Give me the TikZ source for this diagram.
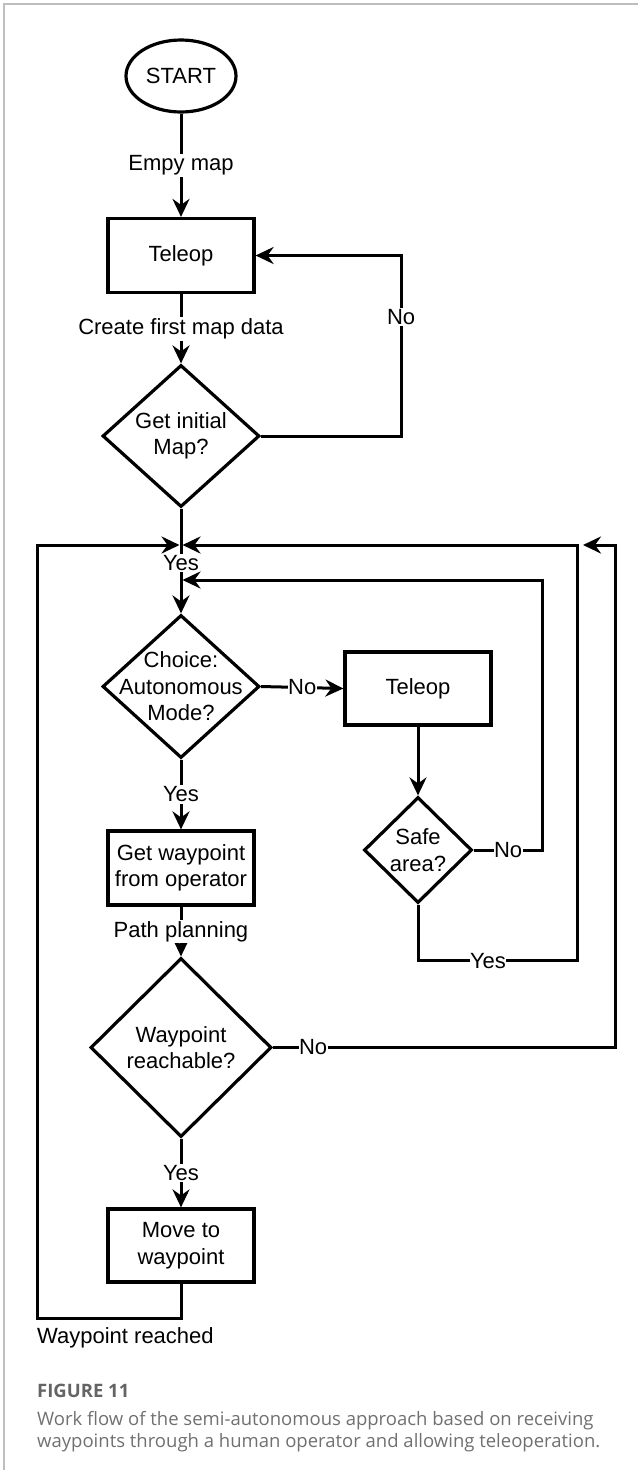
\documentclass[tikz,border=0pt]{standalone}
\usepackage{fontspec}
\setmainfont{Liberation Sans}
\newfontfamily\capfont{Open Sans}
\usetikzlibrary{shapes.geometric,arrows.meta}
\definecolor{framegray}{RGB}{190,190,190}
\definecolor{capgray}{RGB}{112,112,112}
\definecolor{figgray}{RGB}{100,100,100}
\begin{document}
\begin{tikzpicture}[x=1pt,y=-1pt,
  every node/.style={font=\fontsize{22}{26.5}\selectfont, align=center},
  shape line/.style={draw=black, line width=3.2pt},
  procbox/.style={shape line, rectangle, minimum width=146pt, minimum height=74pt, inner sep=0pt},
  decide/.style={shape line, diamond, inner sep=0pt},
  terminal/.style={shape line, ellipse, minimum width=110pt, minimum height=72pt, inner sep=0pt},
  conn/.style={line width=3pt, black},
  arr/.style={conn, -{Stealth[length=18pt, width=17pt, inset=6pt]}},
  lbl/.style={fill=white, inner sep=1.5pt}
]
\useasboundingbox (0,0) rectangle (638,1470);
% page frame (top and left edges only)
\draw[framegray, line width=1.5pt] (638,4) -- (4,4) -- (4,1470);

% nodes
\node[terminal] (start) at (181,76) {START};
\node[procbox] (tel1) at (181,255.5) {Teleop};
\node[decide, minimum width=157pt, minimum height=142pt,
      label={[name=gimtxt, align=center]center:Get initial\\Map?}] (gim) at (181,436) {};
\node[decide, minimum width=157pt, minimum height=143pt,
      label={[name=chmtxt, align=center]center:Choice:\\Autonomous\\Mode?}] (chm) at (181,686.5) {};
\node[procbox, minimum height=73pt] (tel2) at (418,688.5) {Teleop};
\node[decide, minimum width=108pt, minimum height=106pt,
      label={[name=satxt, align=center]center:Safe\\area?}] (sa) at (418,850) {};
\node[procbox] (gw) at (181,868) {Get waypoint\\from operator};
\node[decide, minimum width=181pt, minimum height=179pt,
      label={[name=wrtxt, align=center]center:Waypoint\\reachable?}] (wr) at (181,1047.5) {};
\node[procbox, minimum height=73pt] (mv) at (181,1245.5) {Move to\\waypoint};

% merge points on the main vertical line
\coordinate (jL) at (179.5,545);
\coordinate (jR) at (182.5,545);
\coordinate (jIn) at (182.5,580);
\coordinate (jOut) at (583,545);

% main flow
\draw[arr] (start.south) -- node[lbl]{Empy map} (tel1.north);
\draw[arr] (tel1.south) -- node[lbl]{Create first map data} (gim.north);
\draw[arr] (gim.east) -- ++(140,0) |- node[lbl, pos=0.33]{No} (tel1.east);
\draw[arr] (gim.south) -- node[lbl, pos=0.52]{Yes} (chm.north);
\draw[arr] (chm.east) -- node[lbl, inner sep=0.5pt]{No} (tel2.west);
\draw[arr] (tel2.south) -- (sa.north);
\draw[arr] (sa.east) -- node[lbl, inner sep=0.5pt]{No} ++(69,0) |- (jIn);
\draw[arr] (sa.south) -- ++(0,56) -- node[lbl, inner sep=0.5pt, pos=0.44]{Yes} ++(159,0) |- (jR);
\draw[arr] (chm.south) -- node[lbl]{Yes} (gw.north);
\draw[arr] (gw.south) -- node[lbl]{Path planning} (wr.north);
\draw[arr] (wr.east) -- node[lbl, inner sep=0.5pt, pos=0.117]{No} ++(342,0) |- (jOut);
\draw[arr] (wr.south) -- node[lbl]{Yes} (mv.north);
\draw[arr] (mv.south) -- ++(0,35) -| (37,560) |- (jL);
\node[anchor=base west, inner sep=0pt] (reached) at (37,1343) {Waypoint reached};

% caption
\node[anchor=base west, inner sep=0pt, font=\capfont\fontsize{18.5}{22}\selectfont\bfseries, text=figgray] (fig) at (37,1397) {FIGURE 11};
\node[anchor=base west, inner sep=0pt, align=left, font=\capfont\fontsize{18.5}{22}\selectfont, text=capgray] (cap) at (37,1447)
  {Work flow of the semi-autonomous approach based on receiving\\waypoints through a human operator and allowing teleoperation.};
\end{tikzpicture}
\end{document}
